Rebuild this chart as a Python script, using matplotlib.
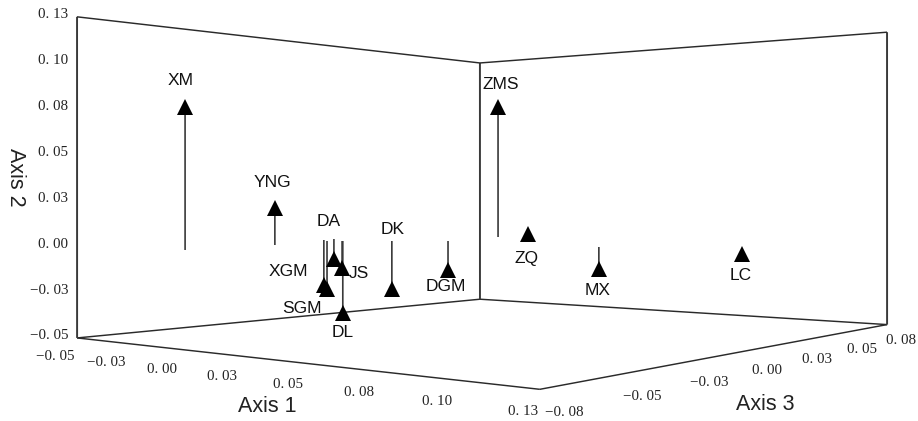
import numpy as np
import matplotlib
matplotlib.use("Agg")
import matplotlib.pyplot as plt

# ordination scores
names = ["XM", "YNG", "DA", "JS", "XGM", "SGM", "DL", "DK", "DGM", "ZMS", "ZQ", "MX", "LC"]
axis1 = [-0.0023, -0.0098, -0.0344, -0.0182, -0.0299, -0.0222, -0.0180, -0.0051, 0.0097, -0.0026, -0.0157, 0.0777, 0.1336]
axis2 = [0.0728, 0.0206, -0.0125, -0.0162, -0.0276, -0.0289, -0.0433, -0.0289, -0.0174, 0.0850, 0.0, -0.0118, 0.0]
axis3 = [-0.0729, -0.0412, -0.0024, -0.0119, -0.0096, -0.0143, -0.0118, -0.0039, 0.0051, 0.0380, 0.0654, -0.0030, -0.0146]

ticks12 = [-0.05, -0.025, 0.0, 0.025, 0.05, 0.075, 0.1, 0.125]
labels12 = ["\u22120. 05", "\u22120. 03", "0. 00", "0. 03", "0. 05", "0. 08", "0. 10", "0. 13"]
ticks3 = [-0.075, -0.05, -0.025, 0.0, 0.025, 0.05, 0.075]
labels3 = ["\u22120. 08", "\u22120. 05", "\u22120. 03", "0. 00", "0. 03", "0. 05", "0. 08"]

# label offsets from the marker, pixels
label_dx = [-4, -2, -5, 17, -35, -25, 0, 1, -2, 3, -2, -1, -2]
label_dy = [-26, -25, -37, 6, -13, 19, 20, -60, 17, -23, 25, 21, 22]

lo12, hi12 = -0.05, 0.125
lo3, hi3 = -0.075, 0.075

# camera fitted on the corners of the box
corners3d = [(lo12, lo12, lo3), (hi12, lo12, lo3), (hi12, lo12, hi3), (lo12, lo12, hi3),
             (lo12, hi12, lo3), (lo12, hi12, hi3), (hi12, hi12, hi3)]
corners2d = [(77, 338), (540, 389), (887, 325), (480, 299), (77, 17), (480, 63), (887, 32)]
rows = []
for (X, Y, Z), (u, v) in zip(corners3d, corners2d):
    rows.append([X, Y, Z, 1, 0, 0, 0, 0, -u*X, -u*Y, -u*Z, -u])
    rows.append([0, 0, 0, 0, X, Y, Z, 1, -v*X, -v*Y, -v*Z, -v])
P = np.linalg.svd(np.array(rows))[2][-1].reshape(3, 4)


def proj(a, b, c):
    q = P @ np.array([a, b, c, 1.0])
    return q[0] / q[2], q[1] / q[2]


def seg(ax, p, q, color="#2a2a2a", lw=1.05):
    x0, y0 = proj(*p)
    x1, y1 = proj(*q)
    ax.plot([x0, x1], [y0, y1], color=color, lw=lw, solid_capstyle="butt", zorder=2)


fig = plt.figure(figsize=(9.18, 4.21), dpi=100)
ax = fig.add_axes([0, 0, 1, 1])
ax.set_xlim(0, 918)
ax.set_ylim(421, 0)
ax.axis("off")

# box: floor, walls
seg(ax, (lo12, lo12, lo3), (hi12, lo12, lo3))
seg(ax, (hi12, lo12, lo3), (hi12, lo12, hi3))
seg(ax, (hi12, lo12, hi3), (lo12, lo12, hi3))
seg(ax, (lo12, lo12, hi3), (lo12, lo12, lo3))
seg(ax, (lo12, lo12, lo3), (lo12, hi12, lo3), color="#3a3a3a", lw=1.4)
seg(ax, (lo12, lo12, hi3), (lo12, hi12, hi3), color="#3a3a3a", lw=1.4)
seg(ax, (hi12, lo12, hi3), (hi12, hi12, hi3), color="#3a3a3a", lw=1.4)
seg(ax, (lo12, hi12, lo3), (lo12, hi12, hi3))
seg(ax, (lo12, hi12, hi3), (hi12, hi12, hi3))

# stems and markers
for n, a, b, c, dx, dy in zip(names, axis1, axis2, axis3, label_dx, label_dy):
    seg(ax, (a, 0.0, c), (a, b, c), color="#3a3a3a", lw=1.2)
    x, y = proj(a, b, c)
    ax.plot([x], [y], marker="^", ms=11.5, color="black", mew=0, ls="none", zorder=3)
    ax.text(x + dx, y + dy, n, fontsize=12.5, family="Liberation Sans", ha="center", va="center",
            color="#111111", zorder=4)

# tick labels
for t, s in zip(ticks12, labels12):
    x, y = proj(lo12, t, lo3)
    ax.text(68, y - 2, s, fontsize=10.8, family="Liberation Serif", ha="right", va="center", color="#222222")
for i, (t, s) in enumerate(zip(ticks12, labels12)):
    x, y = proj(t, lo12, lo3)
    f = i / 7
    ax.text(x - 22 + 5 * f, y + 19 + 3 * f, s, fontsize=10.8, family="Liberation Serif", ha="center", va="center", color="#222222")
for i, (t, s) in enumerate(zip(ticks3, labels3)):
    x, y = proj(hi12, lo12, t)
    f = i / 6
    ax.text(x + 25 - 11 * f, y + 23 - 7 * f, s, fontsize=10.8, family="Liberation Serif", ha="center", va="center", color="#222222")

# axis titles
ax.text(267, 407, "Axis 1", fontsize=15.5, family="Liberation Sans", ha="center", va="center", color="#222222")
ax.text(15, 177, "Axis 2", fontsize=15.5, family="Liberation Sans", ha="center", va="center", rotation=270, color="#222222")
ax.text(765, 404, "Axis 3", fontsize=15.5, family="Liberation Sans", ha="center", va="center", color="#222222")

fig.savefig("out.png", dpi=100)
